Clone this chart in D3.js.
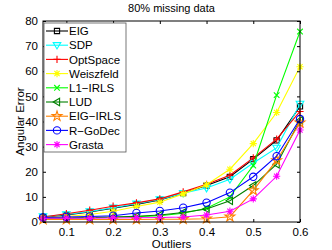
<!DOCTYPE html>
<html>
<head>
<meta charset="utf-8">
<script src="https://cdn.jsdelivr.net/npm/d3@7"></script>
<style>
  body { margin: 0; background: #fff; }
  svg text { font-family: "Liberation Sans", Arial, sans-serif; }
</style>
</head>
<body>
<script>
// Outlier ratios (x axis)
var outliers = [0.05, 0.1, 0.15, 0.2, 0.25, 0.3, 0.35, 0.4, 0.45, 0.5, 0.55, 0.6];

// Angular error per method
var eig       = [1.8, 2.8, 4.0, 5.5, 7.0, 8.8, 11.5, 14.5, 18.0, 25.0, 32.5, 46.0];
var sdp       = [2.2, 3.0, 4.2, 5.7, 7.3, 9.0, 11.5, 13.5, 17.0, 23.5, 29.5, 47.0];
var optspace  = [2.0, 3.3, 4.7, 6.3, 7.6, 9.2, 12.0, 15.0, 18.6, 25.5, 33.0, 44.0];
var weiszfeld = [1.8, 2.2, 3.0, 4.3, 6.2, 7.9, 11.2, 14.8, 21.0, 31.2, 43.6, 61.8];
var l1irls    = [1.5, 1.6, 1.7, 1.9, 2.1, 2.5, 3.5, 5.5, 10.0, 22.5, 50.5, 75.8];
var lud       = [1.5, 1.6, 1.8, 2.0, 2.3, 2.8, 3.8, 5.2, 8.5, 14.5, 23.0, 40.5];
var eigirls   = [1.0, 1.0, 1.0, 1.0, 1.0, 1.1, 1.1, 1.3, 2.1, 12.6, 24.5, 39.5];
var rgodec    = [1.8, 2.0, 2.2, 2.5, 3.6, 4.4, 5.7, 7.7, 11.7, 18.0, 26.2, 41.0];
var grasta    = [1.5, 1.5, 1.5, 1.6, 1.7, 1.8, 2.0, 2.8, 4.3, 9.2, 18.2, 36.6];

var xTicks = [0.1, 0.2, 0.3, 0.4, 0.5, 0.6];
var yTicks = [0, 10, 20, 30, 40, 50, 60, 70, 80];

var series = [
  {name: "EIG",       values: eig,       color: "#000000", marker: "square"},
  {name: "SDP",       values: sdp,       color: "#00ffff", marker: "triDown"},
  {name: "OptSpace",  values: optspace,  color: "#ff0000", marker: "plus"},
  {name: "Weiszfeld", values: weiszfeld, color: "#ffff00", marker: "asterisk"},
  {name: "L1\u2212IRLS",   values: l1irls,    color: "#00ff00", marker: "x"},
  {name: "LUD",       values: lud,       color: "#008000", marker: "triLeft"},
  {name: "EIG\u2212IRLS",  values: eigirls,   color: "#ff8000", marker: "star"},
  {name: "R\u2212GoDec",   values: rgodec,    color: "#0000ff", marker: "circle"},
  {name: "Grasta",    values: grasta,    color: "#ff00ff", marker: "asterisk"}
];

var margin = {top: 21, right: 32, bottom: 28, left: 43},
    width = 332 - margin.left - margin.right,
    height = 250 - margin.top - margin.bottom;

var x = d3.scaleLinear().domain([0.05, 0.6]).range([0, width]);
var y = d3.scaleLinear().domain([0, 80]).range([height, 0]);

var svg = d3.select("body").append("svg")
    .attr("width", 332)
    .attr("height", 250);

var g = svg.append("g")
    .attr("transform", "translate(" + margin.left + "," + margin.top + ")");

// Marker path builder (centred at 0,0)
function markerPath(type) {
  var r = 3.6;
  switch (type) {
    case "square":
      return "M-2.6,-2.6H2.6V2.6H-2.6Z";
    case "triDown":
      return "M-3.8,-2.6L3.8,-2.6L0,3.8Z";
    case "triLeft":
      return "M-3.8,0L2.6,-3.8L2.6,3.8Z";
    case "plus":
      return "M-" + r + ",0H" + r + "M0,-" + r + "V" + r;
    case "x":
      return "M-2.8,-2.8L2.8,2.8M-2.8,2.8L2.8,-2.8";
    case "asterisk":
      return "M-" + r + ",0H" + r + "M0,-" + r + "V" + r +
             "M-2.6,-2.6L2.6,2.6M-2.6,2.6L2.6,-2.6";
    case "star":
      return d3.symbol().type(d3.symbolStar).size(30)();
    case "circle":
      return d3.symbol().type(d3.symbolCircle).size(42)();
  }
}

var line = d3.line()
    .x(function(d, i) { return x(outliers[i]); })
    .y(function(d) { return y(d); });

// Series lines + markers
series.forEach(function(s) {
  g.append("path")
    .attr("d", line(s.values))
    .attr("fill", "none")
    .attr("stroke", s.color)
    .attr("stroke-width", 1.1);

  g.selectAll(null)
    .data(s.values)
    .enter()
    .append("path")
    .attr("transform", function(d, i) { return "translate(" + x(outliers[i]) + "," + y(d) + ")"; })
    .attr("d", markerPath(s.marker))
    .attr("fill", "none")
    .attr("stroke", s.color)
    .attr("stroke-width", 1.1);
});

// Axes (MATLAB style: inward ticks on all sides)
g.append("g")
  .attr("transform", "translate(0," + height + ")")
  .call(d3.axisBottom(x).tickValues(xTicks).tickSizeInner(-3).tickSizeOuter(0).tickPadding(6).tickFormat(d3.format(".1f")));
g.append("g")
  .call(d3.axisTop(x).tickValues(xTicks).tickSizeInner(-3).tickSizeOuter(0).tickFormat(""));
g.append("g")
  .call(d3.axisLeft(y).tickValues(yTicks).tickSizeInner(-3).tickSizeOuter(0).tickPadding(5));
g.append("g")
  .attr("transform", "translate(" + width + ",0)")
  .call(d3.axisRight(y).tickValues(yTicks).tickSizeInner(-3).tickSizeOuter(0).tickFormat(""));

g.selectAll(".domain").remove();
g.selectAll(".tick line").attr("stroke", "#000");
g.selectAll(".tick text")
  .attr("fill", "#000")
  .style("font-size", "11.5px")
  .style("font-family", "'Liberation Sans', Arial, sans-serif");

g.append("rect")
  .attr("width", width)
  .attr("height", height)
  .attr("fill", "none")
  .attr("stroke", "#000")
  .attr("stroke-width", 1);

// Legend
var legend = g.append("g")
  .attr("transform", "translate(1,2)");

legend.append("rect")
  .attr("width", 82)
  .attr("height", 129)
  .attr("fill", "#fff")
  .attr("stroke", "#555")
  .attr("stroke-width", 0.8);

series.forEach(function(s, i) {
  var ly = 8 + i * 14.2;
  legend.append("line")
    .attr("x1", 2).attr("x2", 24)
    .attr("y1", ly).attr("y2", ly)
    .attr("stroke", s.color)
    .attr("stroke-width", 1.1);
  legend.append("path")
    .attr("transform", "translate(13," + ly + ")")
    .attr("d", markerPath(s.marker))
    .attr("fill", "none")
    .attr("stroke", s.color)
    .attr("stroke-width", 1.1);
  legend.append("text")
    .attr("x", 25)
    .attr("y", ly)
    .attr("dy", "0.36em")
    .style("font-size", "11.5px")
    .text(s.name);
});

// Title and labels
svg.append("text")
  .attr("x", margin.left + width / 2)
  .attr("y", 12)
  .attr("text-anchor", "middle")
  .style("font-size", "11px")
  .text("80% missing data");

svg.append("text")
  .attr("x", margin.left + width / 2)
  .attr("y", 248)
  .attr("text-anchor", "middle")
  .style("font-size", "11.5px")
  .text("Outliers");

svg.append("text")
  .attr("transform", "translate(24," + (margin.top + height / 2) + ") rotate(-90)")
  .attr("text-anchor", "middle")
  .style("font-size", "11.5px")
  .text("Angular Error");
</script>
</body>
</html>
